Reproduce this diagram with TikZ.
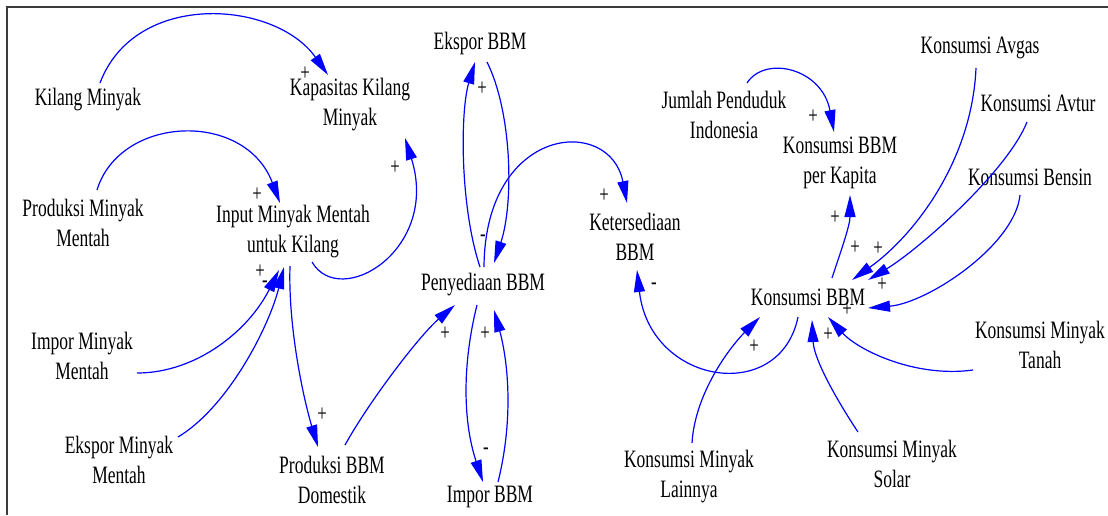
\documentclass[tikz,border=0pt]{standalone}
\usepackage{fontspec}
\setmainfont{Liberation Serif}[FakeStretch=0.7]
\usepackage{tikz}
\usetikzlibrary{arrows.meta,calc}
\definecolor{linkblue}{RGB}{0,0,255}
\definecolor{framegray}{RGB}{60,60,60}

\begin{document}
\begin{tikzpicture}[x=0.5pt,y=-0.5pt,
    var/.style={align=center,inner sep=1pt,font=\fontsize{12.5}{15}\selectfont},
    sign/.style={inner sep=0pt,font=\fontsize{12}{14}\selectfont},
    link/.style={linkblue,line width=0.6pt,-{Triangle[length=11pt,width=5.5pt]}}]
        \useasboundingbox (0,0) rectangle (1108,515);

        % Frame
        \draw[framegray,line width=0.9pt] (1108,7) -- (7,7) -- (7,515);

        % Crude oil side
        \node[var] (kil) at (88,100) {Kilang Minyak};
        \node[var] (kap) at (350,105) {Kapasitas Kilang\\Minyak};
        \node[var] (pmm) at (83,223) {Produksi Minyak\\Mentah};
        \node[var] (inp) at (293,232) {Input Minyak Mentah\\untuk Kilang};
        \node[var] (imm) at (82,356) {Impor Minyak\\Mentah};
        \node[var] (emm) at (119,460) {Ekspor Minyak\\Mentah};
        \node[var] (pbd) at (332,480) {Produksi BBM\\Domestik};

        % Fuel supply
        \node[var] (ebbm) at (480,43) {Ekspor BBM};
        \node[var] (pen) at (483,285) {Penyediaan BBM};
        \node[var] (ibbm) at (490,497) {Impor BBM};
        \node[var] (ket) at (635,237) {Ketersediaan\\BBM};

        % Fuel consumption
        \node[var] (jpi) at (724,115) {Jumlah Penduduk\\Indonesia};
        \node[var] (kpk) at (840,163) {Konsumsi BBM\\per Kapita};
        \node[var] (kav) at (980,48) {Konsumsi Avgas};
        \node[var] (kat) at (1038,103) {Konsumsi Avtur};
        \node[var] (kbe) at (1030,177) {Konsumsi Bensin};
        \node[var] (kbbm) at (808,297) {Konsumsi BBM};
        \node[var] (kmt) at (1040,345) {Konsumsi Minyak\\Tanah};
        \node[var] (kms) at (892,464) {Konsumsi Minyak\\Solar};
        \node[var] (kml) at (689,477) {Konsumsi Minyak\\Lainnya};

        % Causal links
        \draw[link] ($(kil)+(12,-17)$) .. controls +(35,-93) and +(-53,-75) .. ($(kap)+(-22,-30)$);
        \draw[link] ($(pmm)+(14,-33)$) .. controls +(23,-75) and +(-35,-93) .. ($(inp)+(-13,-29)$);
        \draw[link] ($(inp)+(19,30)$) .. controls +(28,48) and +(35,112) .. ($(kap)+(55,33)$);
        \draw[link] ($(imm)+(55,17)$) .. controls +(60,0) and +(-30,60) .. ($(inp)+(-14,38)$);
        \draw[link] ($(emm)+(59,-23)$) .. controls +(50,-30) and +(-15,60) .. ($(inp)+(-9,35)$);
        \draw[link] ($(inp)+(-3,34)$) .. controls +(-2,60) and +(-15,-50) .. ($(pbd)+(-14,-33)$);
        \draw[link] ($(pbd)+(13,-35)$) .. controls +(25,-45) and +(-35,30) .. ($(pen)+(-28,20)$);
        \draw[link] ($(pen)+(-3,-18)$) .. controls +(-20,-60) and +(-15,50) .. ($(ebbm)+(-5,19)$);
        \draw[link] ($(ebbm)+(7,19)$) .. controls +(25,50) and +(20,-60) .. ($(pen)+(11,-22)$);
        \draw[link] ($(pen)+(1,-18)$) .. controls +(1,-142) and +(-17,-88) .. ($(ket)+(-8,-34)$);
        \draw[link] ($(pen)+(-6,20)$) .. controls +(-15,60) and +(-20,-60) .. ($(ibbm)+(-7,-15)$);
        \draw[link] ($(ibbm)+(8,-15)$) .. controls +(15,-60) and +(15,55) .. ($(pen)+(11,25)$);
        \draw[link] ($(kbbm)+(-10,20)$) .. controls +(-18,88) and +(13,115) .. ($(ket)+(2,33)$);
        \draw[link] ($(jpi)+(23,-32)$) .. controls +(18,-28) and +(-12,-64) .. ($(kpk)+(-6,-31)$);
        \draw[link] ($(kbbm)+(24,-19)$) .. controls +(10,-30) and +(0,30) .. ($(kpk)+(10,32)$);
        \draw[link] ($(kav)+(-4,20)$) .. controls +(-4,92) and +(63,-45) .. ($(kbbm)+(44,-17)$);
        \draw[link] ($(kat)+(-11,19)$) .. controls +(-20,50) and +(50,-30) .. ($(kbbm)+(60,-17)$);
        \draw[link] ($(kbe)+(-10,18)$) .. controls +(-5,50) and +(60,-5) .. ($(kbbm)+(60,11)$);
        \draw[link] ($(kmt)+(-67,25)$) .. controls +(-58,8) and +(30,33) .. ($(kbbm)+(20,20)$);
        \draw[link] ($(kms)+(-34,-32)$) .. controls +(-20,-30) and +(2,40) .. ($(kbbm)+(4,23)$);
        \draw[link] ($(kml)+(3,-34)$) .. controls +(3,-50) and +(-30,30) .. ($(kbbm)+(-48,20)$);

        % Link polarities
        \node[sign] (s1) at (305,74) {+};
        \node[sign] (s2) at (257,195) {+};
        \node[sign] (s3) at (395,168) {+};
        \node[sign] (s4) at (260,272) {+};
        \node[sign] (s5) at (265,284) {-};
        \node[sign] (s6) at (322,415) {+};
        \node[sign] (s7) at (445,334) {+};
        \node[sign] (s8) at (482,89) {+};
        \node[sign] (s9) at (483,238) {-};
        \node[sign] (s10) at (604,196) {+};
        \node[sign] (s11) at (486,451) {-};
        \node[sign] (s12) at (485,334) {+};
        \node[sign] (s13) at (654,286) {-};
        \node[sign] (s14) at (813,117) {+};
        \node[sign] (s15) at (835,218) {+};
        \node[sign] (s16) at (855,248) {+};
        \node[sign] (s17) at (878,249) {+};
        \node[sign] (s18) at (882,285) {+};
        \node[sign] (s19) at (847,310) {+};
        \node[sign] (s20) at (828,335) {+};
        \node[sign] (s21) at (754,347) {+};
    \end{tikzpicture}
\end{document}
